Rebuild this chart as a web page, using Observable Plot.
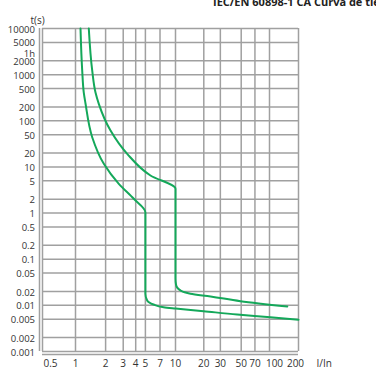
<!DOCTYPE html>
<html><head><meta charset="utf-8">
<script src="https://cdn.jsdelivr.net/npm/d3@7"></script>
<script src="https://cdn.jsdelivr.net/npm/@observablehq/plot@0.6"></script>
<style>
body{margin:0;overflow:hidden;background:#fff}
#wrap{position:relative;width:376px;height:382px;overflow:hidden}
#title{position:absolute;left:213px;top:-4px;font:bold 11px "Open Sans",sans-serif;line-height:11px;white-space:nowrap;color:#222;z-index:2}
</style></head><body><div id="wrap"><div id="title">IEC/EN 60898-1 CA Curva de tiempo</div></div>
<script>
// Tick labels / grid positions
const xTicks = [0.5, 1, 2, 3, 4, 5, 7, 10, 20, 30, 50, 70];
const xTicksShiftR = [100];
const xTicksShiftL = [200];
const xGrid = [1, 2, 3, 4, 5, 7, 10, 20, 30, 50, 70, 100, 200];
const yTicks = [10000, 5000, 2000, 1000, 500, 200, 100, 50, 20, 10, 5, 2, 1, 0.5, 0.2, 0.1, 0.05, 0.02, 0.01, 0.005, 0.002, 0.001];
const yHour = [3600];

// Lower boundary curve (I/In, t in s)
const lowerX = [1.122, 1.167, 1.21, 1.259, 1.469, 1.919, 2.71, 3.83, 5, 5, 5.21, 6.03, 7.59, 10, 19.9, 45.3, 102, 200];
const lowerT = [10000, 1230, 410, 237, 44.1, 11.7, 4.31, 2.04, 1.04, 0.0178, 0.01274, 0.01044, 0.00912, 0.00855, 0.00747, 0.00634, 0.00554, 0.00487];

// Upper boundary curve
const upperX = [1.358, 1.469, 1.585, 1.71, 2.24, 3.29, 5.62, 10, 10, 10.12, 10.5, 11.3, 12.5, 14.4, 23.6, 49.1, 153];
const upperT = [10000, 1230, 410, 233, 61.5, 19.2, 6.52, 3.36, 0.0382, 0.0283, 0.0238, 0.021, 0.0192, 0.0179, 0.0156, 0.0123, 0.00944];

const lower = lowerX.map((x, i) => ({x, t: lowerT[i]}));
const upper = upperX.map((x, i) => ({x, t: upperT[i]}));

const gridColor = "#a0a0a0";
const green = "#14a85a";
const labelColor = "#333";

const chart = Plot.plot({
  width: 376, height: 382,
  marginLeft: 42, marginRight: 78, marginTop: 28, marginBottom: 31,
  style: {fontFamily: '"Open Sans", sans-serif', fontSize: "10px", color: labelColor, background: "#fff"},
  x: {type: "log", domain: [0.4, 1, 10, 100, 200], range: [42, 75, 175, 269, 298], axis: null},
  y: {type: "log", domain: [0.001, 10000], axis: null},
  marks: [
    Plot.gridX(xGrid, {stroke: gridColor, strokeOpacity: 1, strokeWidth: 1.5}),
    Plot.gridY(yTicks, {stroke: gridColor, strokeOpacity: 1, strokeWidth: 1.5}),
    Plot.ruleX([0.4], {stroke: gridColor, strokeWidth: 1.5}),
    Plot.ruleX([0.4], {stroke: gridColor, strokeWidth: 1.5, dx: -3}),
    Plot.ruleY([0.001], {stroke: gridColor, strokeWidth: 1.5, dy: 3}),
    Plot.text(xTicks, {x: d => d, text: d => String(d), frameAnchor: "bottom", dy: 15, fill: labelColor}),
    Plot.text(xTicksShiftR, {x: d => d, text: d => String(d), frameAnchor: "bottom", dy: 15, dx: 5, fill: labelColor}),
    Plot.text(xTicksShiftL, {x: d => d, text: d => String(d), frameAnchor: "bottom", dy: 15, dx: -3, fill: labelColor}),
    Plot.text(yTicks, {y: d => d, text: d => String(d), frameAnchor: "left", dx: -7.5, dy: 1, textAnchor: "end", fontSize: 9.5, fill: labelColor}),
    Plot.text(yHour, {y: d => d, text: () => "1h", frameAnchor: "left", dx: -7.5, dy: 4.5, textAnchor: "end", fontSize: 9.5, fill: labelColor}),
    Plot.line(lower, {x: "x", y: "t", stroke: green, strokeWidth: 2, curve: "monotone-y"}),
    Plot.line(upper, {x: "x", y: "t", stroke: green, strokeWidth: 2, curve: "monotone-y"}),
    Plot.text(["t(s)"], {frameAnchor: "top-left", dx: -12, dy: -12, fill: labelColor}),
    Plot.text(["I/In"], {frameAnchor: "bottom-right", dx: 18, dy: 15, textAnchor: "start", fill: labelColor})
  ]
});
document.getElementById("wrap").appendChild(chart);
</script>
</body></html>
